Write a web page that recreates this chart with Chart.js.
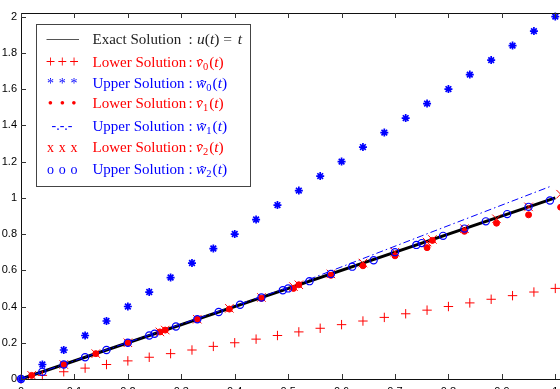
<!DOCTYPE html>
<html>
<head>
<meta charset="utf-8">
<script src="https://cdn.jsdelivr.net/npm/chart.js@4.4.1/dist/chart.umd.min.js"></script>
<style>
  html, body { margin: 0; padding: 0; background: #fff; overflow: hidden; }
  #wrap { width: 560px; height: 389px; overflow: hidden; position: relative; }
  canvas { position: absolute; left: 0; top: 0; }
</style>
</head>
<body>
<div id="wrap"><canvas id="chart" width="600" height="410" style="width:600px;height:410px"></canvas></div>
<script>
// exact solution u(t) = t
const tExact = [0, 1];
const exactU = [0, 1];

// v0 (+) and w0 (*) on the regular grid
const tGrid = [0, 0.04, 0.08, 0.12, 0.16, 0.2, 0.24, 0.28, 0.32, 0.36, 0.4, 0.44, 0.48,
  0.52, 0.56, 0.6, 0.64, 0.68, 0.72, 0.76, 0.8, 0.84, 0.88, 0.92, 0.96, 1.0];
const lowerV0 = [0, 0.02, 0.04, 0.06, 0.08, 0.1, 0.12, 0.14, 0.16, 0.18, 0.2, 0.22, 0.24,
  0.26, 0.28, 0.3, 0.32, 0.34, 0.36, 0.38, 0.4, 0.42, 0.44, 0.46, 0.48, 0.5];
const upperW0 = [0, 0.08, 0.16, 0.24, 0.32, 0.4, 0.48, 0.56, 0.64, 0.72, 0.8, 0.88, 0.96,
  1.04, 1.12, 1.2, 1.28, 1.36, 1.44, 1.52, 1.6, 1.68, 1.76, 1.84, 1.92, 2.0];

// v1 (dots) and v2 (x)
const tLower = [0.02, 0.08, 0.14, 0.2, 0.26, 0.27, 0.33, 0.39, 0.45, 0.51,
  0.52, 0.58, 0.64, 0.70, 0.76, 0.77, 0.83, 0.89, 0.95, 1.01];
const lowerV1 = [0.02, 0.08, 0.14, 0.2, 0.26, 0.27, 0.33, 0.386, 0.445, 0.50,
  0.52, 0.572, 0.625, 0.68, 0.725, 0.765, 0.815, 0.86, 0.906, 0.948];
const lowerV2 = [0.02, 0.08, 0.14, 0.2, 0.26, 0.27, 0.33, 0.39, 0.45, 0.51,
  0.52, 0.58, 0.64, 0.70, 0.756, 0.77, 0.83, 0.884, 0.95, 1.02];

// w1 (dash-dot line)
const tW1 = [0, 0.5, 0.75, 0.99];
const upperW1 = [0, 0.505, 0.79, 1.062];

// w2 (circles)
const tUpper = [0, 0.04, 0.08, 0.12, 0.16, 0.2, 0.24, 0.25, 0.29, 0.33, 0.37, 0.41, 0.45, 0.49,
  0.5, 0.54, 0.58, 0.62, 0.66, 0.70, 0.74, 0.75, 0.79, 0.83, 0.87, 0.91, 0.95, 0.99];
const upperW2 = [0, 0.04, 0.08, 0.12, 0.16, 0.2, 0.24, 0.25, 0.29, 0.33, 0.37, 0.41, 0.45, 0.49,
  0.5, 0.54, 0.58, 0.62, 0.655, 0.70, 0.74, 0.75, 0.79, 0.83, 0.87, 0.91, 0.95, 0.985];

const xTicks = [0, 0.1, 0.2, 0.3, 0.4, 0.5, 0.6, 0.7, 0.8, 0.9, 1];
const xTickLabels = ['0', '0.1', '0.2', '0.3', '0.4', '0.5', '0.6', '0.7', '0.8', '0.9', '1'];
const yTicks = [0, 0.2, 0.4, 0.6, 0.8, 1, 1.2, 1.4, 1.6, 1.8, 2];
const yTickLabels = ['0', '0.2', '0.4', '0.6', '0.8', '1', '1.2', '1.4', '1.6', '1.8', '2'];

const RED = '#ff0000';
const BLUE = '#0000ff';
const serif = '"Liberation Serif", "Times New Roman", serif';
const sans = '"Liberation Sans", Arial, sans-serif';

const pts = (xs, ys) => xs.map((x, i) => ({ x: x, y: ys[i] }));

// legend rows, typeset like the LaTeX legend
const legendRows = [
  { y: 39.3, sample: 'line', color: '#222', text: 'Exact Solution' },
  { y: 62, sample: '+', color: RED, text: 'Lower Solution', letter: 'v', sub: '0' },
  { y: 83.3, sample: '*', color: BLUE, text: 'Upper Solution', letter: 'w', sub: '0' },
  { y: 102.7, sample: '\u2022', color: RED, text: 'Lower Solution', letter: 'v', sub: '1' },
  { y: 126, sample: '-.-.-', color: BLUE, text: 'Upper Solution', letter: 'w', sub: '1' },
  { y: 146.7, sample: 'x', color: RED, text: 'Lower Solution', letter: 'v', sub: '2' },
  { y: 169.3, sample: 'o', color: BLUE, text: 'Upper Solution', letter: 'w', sub: '2' },
];

const framePlugin = {
  id: 'frame',
  afterDatasetsDraw(chart) {
    const { ctx, chartArea: a, scales: { x, y } } = chart;
    ctx.save();
    ctx.strokeStyle = '#111';
    ctx.lineWidth = 1;
    ctx.strokeRect(a.left + 0.5, a.top + 0.5, a.right - a.left, a.bottom - a.top);
    ctx.strokeStyle = '#333';
    ctx.beginPath();
    xTicks.forEach(v => {
      const px = Math.round(x.getPixelForValue(v)) + 0.5;
      ctx.moveTo(px, a.bottom); ctx.lineTo(px, a.bottom - 5);
      ctx.moveTo(px, a.top); ctx.lineTo(px, a.top + 5);
    });
    yTicks.forEach(v => {
      const py = Math.round(y.getPixelForValue(v)) + 0.5;
      ctx.moveTo(a.left, py); ctx.lineTo(a.left + 5, py);
    });
    ctx.stroke();
    ctx.restore();
  }
};

function piece(ctx, str, x, yb, font) {
  ctx.font = font;
  ctx.fillText(str, x, yb);
  return ctx.measureText(str).width;
}

const legendPlugin = {
  id: 'texLegend',
  afterDraw(chart) {
    const ctx = chart.ctx;
    ctx.save();
    ctx.fillStyle = '#fff';
    ctx.fillRect(36.5, 24.5, 214, 162);
    ctx.strokeStyle = '#444';
    ctx.lineWidth = 1;
    ctx.strokeRect(36.5, 24.5, 214, 162);

    const rom = '15px ' + serif;
    const mrom = '15.5px ' + serif;
    const mita = 'italic 15.5px ' + serif;
    legendRows.forEach(r => {
      const yb = r.y + 5;
      ctx.fillStyle = r.color;
      ctx.strokeStyle = r.color;
      ctx.textBaseline = 'alphabetic';
      ctx.letterSpacing = '0px';
      // sample
      if (r.sample === 'line') {
        ctx.strokeStyle = '#555';
        ctx.beginPath();
        ctx.moveTo(46.5, Math.round(r.y) + 0.5);
        ctx.lineTo(79, Math.round(r.y) + 0.5);
        ctx.stroke();
      } else if (r.sample === '-.-.-') {
        ctx.textAlign = 'center';
        ctx.font = '14px ' + serif;
        ctx.fillText('-.-.-', 62, yb - 1);
      } else {
        ctx.textAlign = 'center';
        ctx.font = r.sample === '\u2022' ? '15px ' + serif : r.sample === '+' ? '17px ' + serif : '14px ' + serif;
        [50.5, 62.3, 74].forEach(cx => ctx.fillText(r.sample, cx, yb));
      }
      // text, stretched towards the width of the original label
      ctx.textAlign = 'left';
      ctx.font = rom;
      const natural = ctx.measureText(r.text).width;
      const spacing = Math.max(0, (84 - natural) / (r.text.length - 1));
      ctx.letterSpacing = spacing.toFixed(2) + 'px';
      ctx.fillText(r.text, 92.5, yb);
      ctx.letterSpacing = '0px';
      piece(ctx, ':', 188.5, yb, rom);
      let x = 196;
      if (!r.letter) {
        x += 1;
        x += piece(ctx, 'u', x, yb, mita);
        x += piece(ctx, '(', x, yb, mrom);
        x += piece(ctx, 't', x, yb, mita);
        x += piece(ctx, ')', x, yb, mrom);
        x += piece(ctx, ' = ', x, yb, mrom) + 2;
        piece(ctx, 't', x, yb, mita);
      } else {
        const w = piece(ctx, r.letter, x, yb, mita);
        ctx.font = mrom;
        const hw = ctx.measureText('\u02C6').width;
        ctx.fillText('\u02C6', x + w / 2 - hw / 2 + 1, yb + 2);
        x += w;
        x += piece(ctx, r.sub, x, yb + 3, '10.5px ' + serif) + 1;
        x += piece(ctx, '(', x, yb, mrom);
        x += piece(ctx, 't', x, yb, mita);
        piece(ctx, ')', x, yb, mrom);
      }
    });
    ctx.restore();
  }
};

new Chart(document.getElementById('chart'), {
  type: 'scatter',
  data: {
    datasets: [
      {
        label: 'Exact Solution',
        data: pts(tExact, exactU),
        showLine: true, borderColor: '#000', borderWidth: 3, pointRadius: 0,
        order: 10, clip: false
      },
      {
        label: 'Upper Solution w1',
        data: pts(tW1, upperW1),
        showLine: true, borderColor: BLUE, borderWidth: 1, borderDash: [7, 3, 1.5, 3],
        pointRadius: 0, order: 9, clip: false
      },
      {
        label: 'Lower Solution v0',
        data: pts(tGrid, lowerV0),
        pointStyle: 'cross', pointRadius: 4.7, borderColor: RED, borderWidth: 1,
        order: 8, clip: false
      },
      {
        label: 'Upper Solution w0',
        data: pts(tGrid, upperW0),
        pointStyle: 'star', pointRadius: 4, borderColor: BLUE, borderWidth: 1.7,
        order: 7, clip: false
      },
      {
        label: 'Lower Solution v1',
        data: pts(tLower, lowerV1),
        pointStyle: 'circle', pointRadius: 3, backgroundColor: RED, borderColor: RED, borderWidth: 1,
        order: 6, clip: false
      },
      {
        label: 'Lower Solution v2',
        data: pts(tLower, lowerV2),
        pointStyle: 'crossRot', pointRadius: 6, borderColor: RED, borderWidth: 1,
        order: 5, clip: false
      },
      {
        label: 'Upper Solution w2',
        data: pts(tUpper, upperW2),
        pointStyle: 'circle', pointRadius: 3.6, backgroundColor: 'rgba(0,0,0,0)', borderColor: BLUE, borderWidth: 1.2,
        order: 4, clip: false
      },
    ]
  },
  options: {
    responsive: false,
    animation: false,
    devicePixelRatio: 1,
    layout: { padding: { top: 13, right: 18, bottom: 0, left: 0 } },
    plugins: { legend: { display: false }, tooltip: { enabled: false } },
    scales: {
      x: {
        type: 'linear', min: 0, max: 1.05,
        afterBuildTicks: s => { s.ticks = xTicks.map(v => ({ value: v })); },
        afterFit: s => { s.height = 31; },
        grid: { display: false, drawTicks: false },
        border: { display: false },
        ticks: {
          padding: 6, maxRotation: 0, autoSkip: false, color: '#000',
          font: { family: sans, size: 11 },
          callback: (v, i) => xTickLabels[i]
        }
      },
      y: {
        type: 'linear', min: 0, max: 2.02,
        afterBuildTicks: s => { s.ticks = yTicks.map(v => ({ value: v })); },
        afterFit: s => { s.width = 21; },
        grid: { display: false, drawTicks: false },
        border: { display: false },
        ticks: {
          padding: 4, autoSkip: false, color: '#000',
          font: { family: sans, size: 11 },
          callback: (v, i) => yTickLabels[i]
        }
      }
    }
  },
  plugins: [framePlugin, legendPlugin]
});
</script>
</body>
</html>
